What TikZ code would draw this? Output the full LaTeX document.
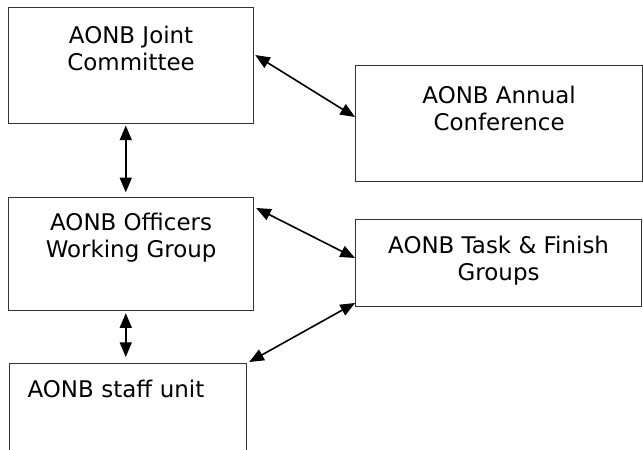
\documentclass[tikz,border=0pt]{standalone}
\usepackage{fontspec}
\setmainfont{DejaVu Sans}
\usetikzlibrary{arrows.meta, calc}

\begin{document}
\begin{tikzpicture}[
x=0.75pt, y=-0.75pt,
box/.style = {draw=black!80, line width=0.9pt, anchor=north west, inner sep=0pt, align=center},
link/.style = {<->, line width=1.2pt},
>={Triangle[length=11pt, width=9pt]},
font=\fontsize{17.2}{20.5}\selectfont,
]

\clip (0,0) rectangle (643,450);

\node (jc) [box, minimum width=183.75pt, text height=47.5pt, text depth=39.5pt] at (8,7) {AONB Joint\\Committee};
\node (ac) [box, minimum width=215.25pt, text height=49pt, text depth=38pt] at (355,65) {AONB Annual\\Conference};
\node (owg) [box, minimum width=183.75pt, text height=45.25pt, text depth=39.5pt] at (8,197) {AONB Officers\\Working Group};
\node (tf) [box, minimum width=214.5pt, text height=46pt, text depth=19.25pt] at (355,219) {AONB Task \& Finish\\Groups};
\node (su) [box, align=left, inner xsep=13.5pt, text width=150.75pt, text height=25.5pt, text depth=57pt] at (9,363) {AONB staff unit};

\draw[link, shorten <=1pt, shorten >=3.5pt] ([xshift=-4pt]jc.south) -- ([xshift=-4pt]jc.south |- owg.north);
\draw[link] ($(jc.north east)+(1,48)$) -- ($(ac.north west)+(0,52)$);
\draw[link] ($(owg.north east)+(2,11)$) -- ($(tf.north west)+(0,39)$);
\draw[link, shorten <=1.5pt, shorten >=4.5pt] ([xshift=-4pt]owg.south) -- ([xshift=-4pt]owg.south |- su.north);
\draw[link] ($(tf.north west)+(0,84)$) -- ($(su.north east)+(2,-1)$);

\end{tikzpicture}
\end{document}
